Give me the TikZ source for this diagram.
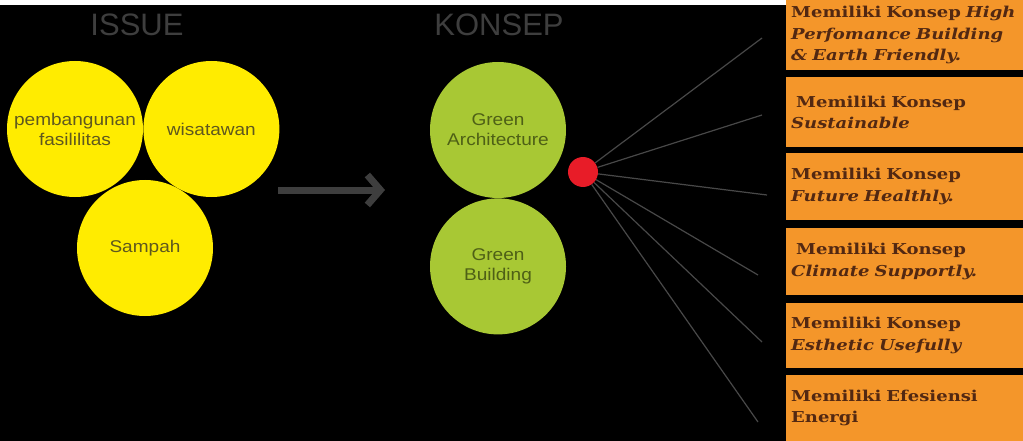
\documentclass[tikz,border=0pt]{standalone}
\usepackage{fontspec}
\setmainfont{Liberation Sans}
\newfontfamily\slabfont[FakeStretch=1.2]{DejaVu Serif}
\newfontfamily\ballfont[FakeStretch=1.12]{Liberation Sans}
\usepackage{xcolor}
\usepackage{tikz}
\usetikzlibrary{positioning,arrows.meta}
\definecolor{issueyellow}{RGB}{255,236,0}
\definecolor{issuetext}{RGB}{95,88,30}
\definecolor{leafgreen}{RGB}{168,200,52}
\definecolor{leaftext}{RGB}{78,96,22}
\definecolor{dotred}{RGB}{232,28,40}
\definecolor{boxorange}{RGB}{244,150,42}
\definecolor{boxtext}{RGB}{82,40,18}
\definecolor{titlegrey}{RGB}{62,62,62}
\definecolor{spokegrey}{RGB}{72,72,72}

\begin{document}
\begin{tikzpicture}[
    x=1pt, y=-1pt,
    ball/.style={circle, minimum size=136pt, inner sep=0pt, align=center, font=\ballfont\fontsize{17}{20}\selectfont},
    issueball/.style={ball, fill=issueyellow, text=issuetext},
    konsepball/.style={ball, fill=leafgreen, text=leaftext},
    heading/.style={font=\fontsize{31}{31}\selectfont, text=titlegrey},
    konsepbox/.style={rectangle, fill=boxorange, text=boxtext, anchor=north west, minimum width=237pt, text width=228pt, inner xsep=5pt, inner ysep=0pt, align=left, font=\slabfont\bfseries\fontsize{15}{21.5}\selectfont},
    spoke/.style={draw=spokegrey, line width=1.2pt},
]
    \useasboundingbox (0,0) rectangle (1023,441);
    % Background
    \fill[white] (0,0) rectangle (1023,5);
    \fill[black] (0,5) rectangle (1023,441);

    % Headings
    \node[heading] (issue) at (137,25) {ISSUE};
    \node[heading] (konsep) at (499,25) {KONSEP};

    % Issue circles
    \node[issueball] (bangun) at (75,129) {pembangunan\\fasililitas};
    \node[issueball, right=0pt of bangun] (wisata) {wisatawan};
    \node[issueball] (sampah) at (145,248) {Sampah};

    % Arrow
    \coordinate (arrS) at (278,190);
    \coordinate (arrE) at (385,190);
    \draw[line width=7pt, titlegrey, -{Straight Barb[length=13pt,width=30pt]}] (arrS) -- (arrE);

    % Konsep circles
    \node[konsepball] (arch) at (498,130) {Green\\Architecture};
    \node[konsepball, below=0pt of arch] (build) {Green\\Building};

    % Red dot
    \node[circle, fill=dotred, minimum size=30pt, inner sep=0pt] (dot) at (583,172) {};

    % Boxes
    \node[konsepbox, minimum height=70pt] (b1) at (786,0) {
        Memiliki Konsep \textit{High}\\
        \textit{Perfomance Building}\\
        \textit{\& Earth Friendly.}
    };
    \node[konsepbox, minimum height=70pt] (b2) at (786,77) {
        \ Memiliki Konsep\\
        \textit{Sustainable}
    };
    \node[konsepbox, minimum height=67pt] (b3) at (786,153) {
        Memiliki Konsep\\
        \textit{Future Healthly.}
    };
    \node[konsepbox, minimum height=67pt] (b4) at (786,228) {
        \ Memiliki Konsep\\
        \textit{Climate Supportly.}
    };
    \node[konsepbox, minimum height=65pt] (b5) at (786,303) {
        Memiliki Konsep\\
        \textit{Esthetic Usefully}
    };
    \node[konsepbox, minimum height=66pt] (b6) at (786,375) {
        Memiliki Efesiensi\\
        Energi
    };

    % Spokes
    \coordinate (s1) at (762,38);
    \coordinate (s2) at (762,115);
    \coordinate (s3) at (767,195);
    \coordinate (s4) at (758,275);
    \coordinate (s5) at (762,342);
    \coordinate (s6) at (758,422);
    \draw[spoke] (dot) -- (s1);
    \draw[spoke] (dot) -- (s2);
    \draw[spoke] (dot) -- (s3);
    \draw[spoke] (dot) -- (s4);
    \draw[spoke] (dot) -- (s5);
    \draw[spoke] (dot) -- (s6);
\end{tikzpicture}
\end{document}
